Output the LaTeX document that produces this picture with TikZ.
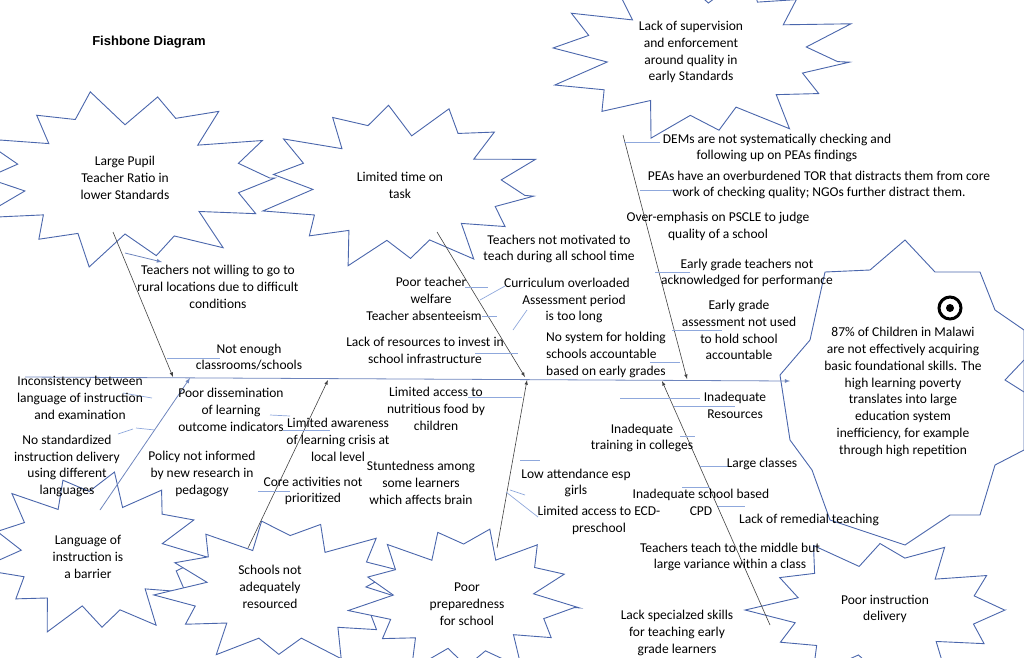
\documentclass[tikz,border=0pt]{standalone}
\usepackage{fontspec}
\setmainfont{Carlito}
\definecolor{bl}{HTML}{4A66AC}
\definecolor{lb}{HTML}{8FA8DC}
\newcommand\burst[7]{%
\draw[burst] ({#1+#3*cos(#6)},{#2+#4*sin(#6)}) \foreach \k in {1,...,#5} {-- ({#1+#3*(1-0.3*mod(\k,2)+0.08*sin(\k*97+#7))*cos(\k*360/#5+#6)},{#2+#4*(1-0.3*mod(\k,2)+0.08*sin(\k*97+#7))*sin(\k*360/#5+#6)})} -- cycle;}
\begin{document}
\begin{tikzpicture}[x=1pt,y=-1pt,
  burst/.style={draw=bl,line width=0.9pt,fill=white,line join=miter},
  t/.style={align=center,font=\fontsize{13.5}{16.8}\selectfont,inner sep=0pt},
  bone/.style={draw=black!75,line width=0.6pt,-latex},
  sub/.style={draw=lb,line width=0.7pt},
  bluearrow/.style={draw=bl!80,line width=0.8pt,-latex}]
\useasboundingbox (0,0) rectangle (1024,657);
% bursts
\burst{125}{178}{150}{85}{28}{0}{10}
\burst{400}{185}{135}{80}{28}{8}{40}
\burst{700}{55}{150}{82}{28}{5}{70}
\burst{95}{553}{110}{80}{26}{3}{20}
\burst{285}{590}{125}{70}{26}{10}{55}
\burst{465}{600}{110}{72}{26}{6}{33}
\burst{880}{610}{125}{70}{24}{0}{15}
% head polygon
\draw[burst] (905,240) -- (870,270) -- (825,272) -- (810,340) -- (780,375) -- (790,440) -- (812,470) -- (830,520) -- (905,545) -- (950,515) -- (980,515) -- (995,465) -- (1024,450) -- (1024,330) -- (995,310) -- (980,272) -- (935,272) -- cycle;
\draw[line width=3pt] (950,308) circle (11);
\fill (950,308) circle (4);
\draw[burst,fill=none] (1024,360) -- (1005,380) -- (1024,392);
% coordinates
\coordinate (s0) at (25,377); \coordinate (s1) at (790,381);
\coordinate (b1a) at (113,232); \coordinate (b1b) at (173,377);
\coordinate (b2a) at (437,232); \coordinate (b2b) at (525,377);
\coordinate (b3a) at (623,135); \coordinate (b3b) at (687,379);
\coordinate (b4a) at (248,548); \coordinate (b4b) at (328,380);
\coordinate (b5a) at (497,548); \coordinate (b5b) at (527,380);
\coordinate (b6a) at (770,625); \coordinate (b6b) at (662,381);
\coordinate (b7a) at (100,510); \coordinate (b7b) at (190,378);
\coordinate (w1) at (125,253); \coordinate (w2) at (162,262);
\draw[bluearrow] (s0) -- (s1);
\foreach \a/\b in {b1a/b1b,b2a/b2b,b3a/b3b,b4a/b4b,b5a/b5b,b6a/b6b} \draw[bone] (\a) -- (\b);
\draw[bluearrow,-latex] (b7a) -- (b7b);
\draw[bluearrow] (w1) -- (w2);
% sub lines
\foreach \p/\q in {{(167,358)}/{(220,358)},{(123,393)}/{(152,398)},{(118,434)}/{(133,429)},{(136,428)}/{(155,430)},{(270,415)}/{(290,416)},{(283,430)}/{(330,430)},{(258,491)}/{(290,491)},{(465,287)}/{(488,287)},{(482,316)}/{(497,316)},{(475,353)}/{(518,353)},{(480,300)}/{(505,286)},{(513,330)}/{(527,310)},{(624,142)}/{(660,142)},{(640,190)}/{(677,190)},{(655,272)}/{(690,272)},{(672,330)}/{(722,330)},{(650,362)}/{(680,362)},{(468,397)}/{(522,397)},{(520,460)}/{(540,460)},{(510,490)}/{(525,495)},{(506,492)}/{(538,517)},{(620,398)}/{(700,398)},{(674,406)}/{(735,406)},{(680,436)}/{(695,436)},{(700,466)}/{(728,466)},{(682,487)}/{(710,487)},{(718,506)}/{(745,506)}}
  \draw[sub] \p -- \q;
% texts
\node[font=\fontspec{Liberation Sans}\bfseries\fontsize{13}{15}\selectfont,inner sep=0pt] (title) at (149,42) {Fishbone Diagram};
\node[t] (n1) at (125,178) {Large Pupil\\Teacher Ratio in\\lower Standards};
\node[t] (n2) at (400,185) {Limited time on\\task};
\node[t] (n3) at (691,52) {Lack of supervision\\and enforcement\\around quality in\\early Standards};
\node[t] (n4) at (218,287) {Teachers not willing to go to\\rural locations due to difficult\\conditions};
\node[t] (n5) at (249,357) {Not enough\\classrooms/schools};
\node[t] (n6) at (80,398) {Inconsistency between\\language of instruction\\and examination};
\node[t] (n7) at (67,466) {No standardized\\instruction delivery\\using different\\languages};
\node[t] (n8) at (231,410) {Poor dissemination\\of learning\\outcome indicators};
\node[t] (n9) at (338,440) {Limited awareness\\of learning crisis at\\local level};
\node[t] (n10) at (202,474) {Policy not informed\\by new research in\\pedagogy};
\node[t] (n11) at (313,491) {Core activities not\\prioritized};
\node[t] (n12) at (88,557) {Language of\\instruction is\\a barrier};
\node[t] (n13) at (270,587) {Schools not\\adequately\\resourced};
\node[t] (n14) at (467,604) {Poor\\preparedness\\for school};
\node[t] (n15) at (559,249) {Teachers not motivated to\\teach during all school time};
\node[t] (n16) at (431,290) {Poor teacher\\welfare};
\node[t] (n17) at (424,316) {Teacher absenteeism};
\node[t] (n18) at (567,283) {Curriculum overloaded};
\node[t] (n19) at (574,309) {Assessment period\\is too long};
\node[t] (n20) at (425,350) {Lack of resources to invest in\\school infrastructure};
\node[t,align=left] (n21) at (606,355) {No system for holding\\schools accountable\\based on early grades};
\node[t] (n22) at (436,409) {Limited access to\\nutritious food by\\children};
\node[t] (n23) at (421,483) {Stuntedness among\\some learners\\which affects brain};
\node[t] (n24) at (576,483) {Low attendance esp\\girls};
\node[t] (n25) at (599,520) {Limited access to ECD-\\preschool};
\node[t] (n26) at (777,148) {DEMs are not systematically checking and\\following up on PEAs findings};
\node[t] (n27) at (819,185) {PEAs have an overburdened TOR that distracts them from core\\work of checking quality; NGOs further distract them.};
\node[t] (n28) at (718,226) {Over-emphasis on PSCLE to judge\\quality of a school};
\node[t] (n29) at (747,273) {Early grade teachers not\\acknowledged for performance};
\node[t] (n30) at (739,330) {Early grade\\assessment not used\\to hold school\\accountable};
\node[t] (n31) at (903,392) {87\% of Children in Malawi\\are not effectively acquiring\\basic foundational skills. The\\high learning poverty\\translates into large\\education system\\inefficiency, for example\\through high repetition};
\node[t] (n32) at (735,405) {Inadequate\\Resources};
\node[t] (n33) at (642,438) {Inadequate\\training in colleges};
\node[t] (n34) at (762,464) {Large classes};
\node[t] (n35) at (701,502) {Inadequate school based\\CPD};
\node[t] (n36) at (809,520) {Lack of remedial teaching};
\node[t] (n37) at (730,557) {Teachers teach to the middle but\\large variance within a class};
\node[t] (n38) at (677,633) {Lack specialzed skills\\for teaching early\\grade learners};
\node[t] (n39) at (885,609) {Poor instruction\\delivery};
\end{tikzpicture}
\end{document}
